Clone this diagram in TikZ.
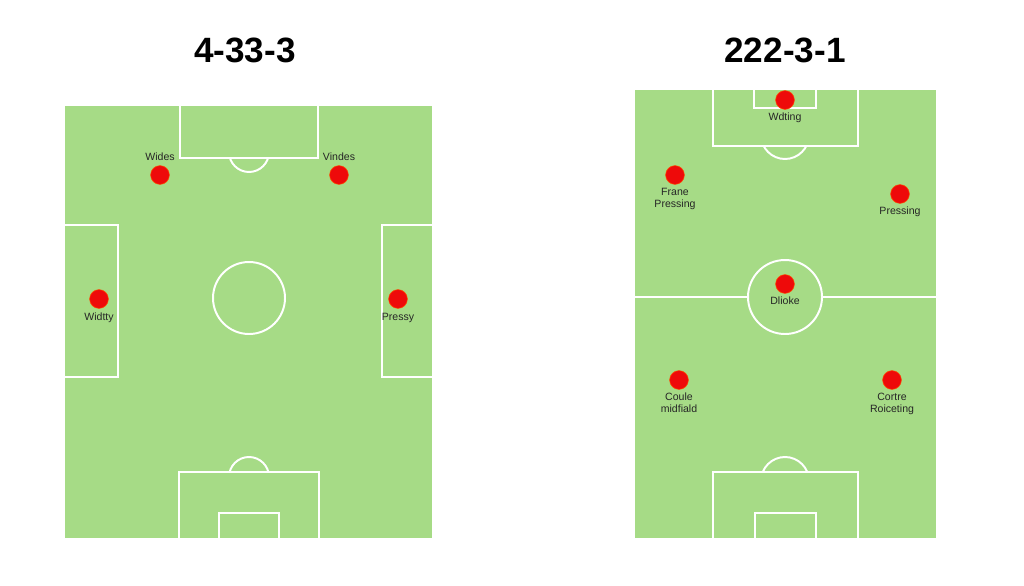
\documentclass[tikz,border=0pt]{standalone}
\usepackage{fontspec}
\setmainfont{Liberation Sans}
\usepackage{xcolor}
\usepackage{tikz}
\usetikzlibrary{positioning}
\definecolor{grass}{HTML}{A6DB86}
\definecolor{dotred}{HTML}{EE0A0A}

\begin{document}
\begin{tikzpicture}[x=0.025cm,y=-0.025cm,
  mark line/.style={white,line width=1.4pt},
  player/.style={circle,fill=dotred,draw=orange!60!red,line width=0.4pt,inner sep=0pt,minimum size=0.47cm},
  tag/.style={font=\fontsize{7.5}{8.5}\selectfont,align=center,text=black!85,inner sep=0pt},
  title/.style={font=\fontsize{25}{28}\selectfont\bfseries}]
	\useasboundingbox (0,0) rectangle (1024,585);
	% Left pitch
	\fill[grass] (65,106) rectangle (432,538);
	\draw[mark line] (180,106) -- (180,158) -- (318,158) -- (318,106);
	\begin{scope}
		\clip (180,158) rectangle (318,200);
		\draw[mark line] (249,152) circle (20);
	\end{scope}
	\draw[mark line] (65,225) -- (118,225) -- (118,377) -- (65,377);
	\draw[mark line] (432,225) -- (382,225) -- (382,377) -- (432,377);
	\draw[mark line] (249,298) circle (36);
	\draw[mark line] (179,538) -- (179,472) -- (319,472) -- (319,538);
	\draw[mark line] (219,538) -- (219,513) -- (279,513) -- (279,538);
	\begin{scope}
		\clip (179,472) rectangle (319,440);
		\draw[mark line] (249,477) circle (20);
	\end{scope}
	% Right pitch
	\fill[grass] (635,90) rectangle (936,538);
	\draw[mark line] (713,90) -- (713,146) -- (858,146) -- (858,90);
	\draw[mark line] (754,90) -- (754,108) -- (816,108) -- (816,90);
	\begin{scope}
		\clip (713,146) rectangle (858,180);
		\draw[mark line] (785,135) circle (24);
	\end{scope}
	\draw[mark line] (785,297) circle (37);
	\draw[mark line] (635,297) -- (748,297);
	\draw[mark line] (822,297) -- (936,297);
	\draw[mark line] (713,538) -- (713,472) -- (858,472) -- (858,538);
	\draw[mark line] (755,538) -- (755,513) -- (816,513) -- (816,538);
	\begin{scope}
		\clip (713,472) rectangle (858,440);
		\draw[mark line] (785,481) circle (24);
	\end{scope}
	% Titles
	\node[title] (titleA) at (245,50) {4-33-3};
	\node[title] (titleB) at (785,50) {222-3-1};
	% Players 4-33-3
	\node[player] (wides) at (160,175) {};
	\node[tag,above=10pt of wides.center] (lwides) {Wides};
	\node[player] (vindes) at (339,175) {};
	\node[tag,above=10pt of vindes.center] (lvindes) {Vindes};
	\node[player] (widtty) at (99,299) {};
	\node[tag,below=10pt of widtty.center] (lwidtty) {Widtty};
	\node[player] (pressy) at (398,299) {};
	\node[tag,below=10pt of pressy.center] (lpressy) {Pressy};
	% Players 222-3-1
	\node[player] (wdting) at (785,100) {};
	\node[tag,below=9pt of wdting.center] (lwdting) {Wdting};
	\node[player] (frane) at (675,175) {};
	\node[tag,below=9pt of frane.center] (lfrane) {Frane\\Pressing};
	\node[player] (pressing) at (900,194) {};
	\node[tag,below=9pt of pressing.center] (lpressing) {Pressing};
	\node[player] (dlioke) at (785,284) {};
	\node[tag,below=9pt of dlioke.center] (ldlioke) {Dlioke};
	\node[player] (coule) at (679,380) {};
	\node[tag,below=9pt of coule.center] (lcoule) {Coule\\midfiald};
	\node[player] (cortre) at (892,380) {};
	\node[tag,below=9pt of cortre.center] (lcortre) {Cortre\\Roiceting};
\end{tikzpicture}
\end{document}
